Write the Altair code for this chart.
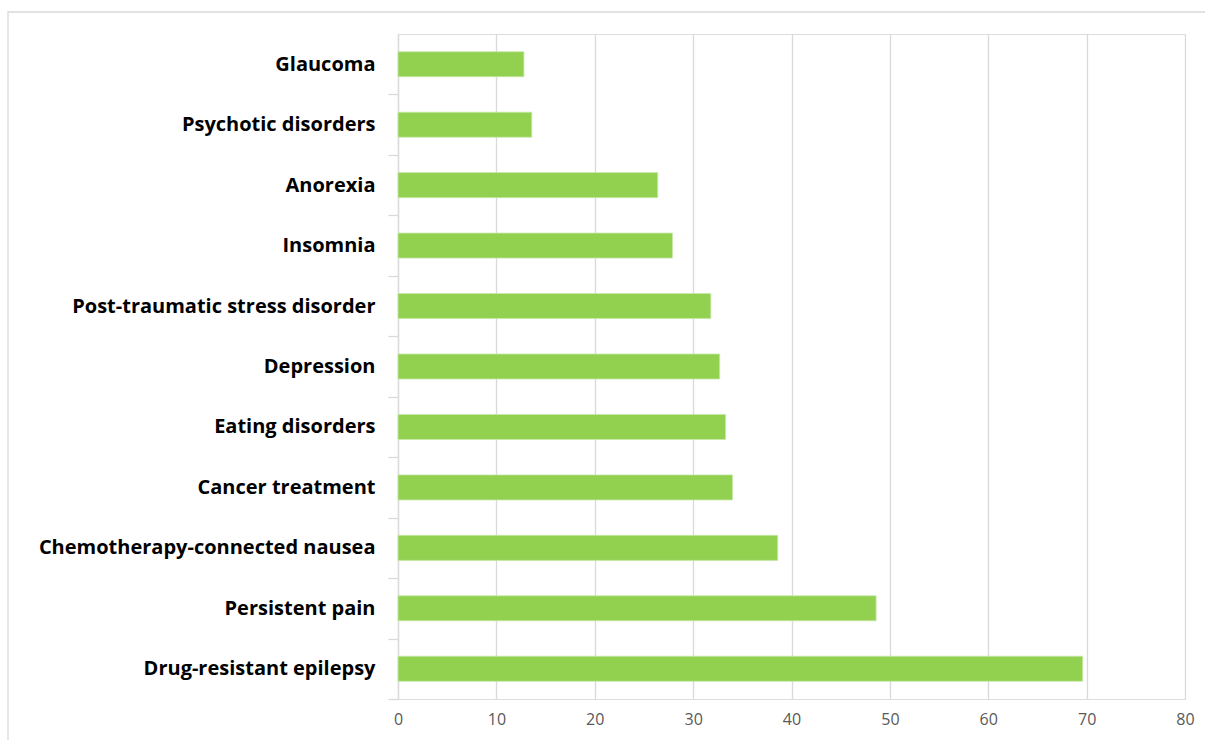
import altair as alt
import pandas as pd

# Conditions (top to bottom) and the share reported for each
conditions = [
    "Glaucoma",
    "Psychotic disorders",
    "Anorexia",
    "Insomnia ",
    "Post-traumatic stress disorder",
    "Depression",
    "Eating disorders",
    "Cancer treatment",
    "Chemotherapy-connected nausea ",
    "Persistent pain",
    "Drug-resistant epilepsy",
]
values = [12.8, 13.6, 26.4, 27.9, 31.8, 32.7, 33.3, 34.0, 38.6, 48.6, 69.6]
x_ticks = [0, 10, 20, 30, 40, 50, 60, 70, 80]

df = pd.DataFrame({"condition": conditions, "value": values})

GRID = "#D9D9D9"
BAR = "#92D050"
PAD_INNER = 0.586
STEP = 665 / len(conditions)

bars = alt.Chart(df).mark_bar(color=BAR, stroke="#C8E8A8", strokeWidth=0.8).encode(
    x=alt.X(
        "value:Q",
        scale=alt.Scale(domain=[0, 80], nice=False),
        axis=alt.Axis(
            values=x_ticks,
            title=None,
            domain=False,
            ticks=False,
            grid=True,
            gridColor=GRID,
            gridWidth=1.3,
            labelColor="#595959",
            labelFont="Open Sans",
            labelFontSize=16,
            labelPadding=12,
            labelFlush=False,
        ),
    ),
    y=alt.Y(
        "condition:N",
        sort=conditions,
        scale=alt.Scale(paddingInner=PAD_INNER, paddingOuter=PAD_INNER / 2),
        axis=alt.Axis(
            title=None,
            grid=False,
            domainColor=GRID,
            domainWidth=1.3,
            tickColor=GRID,
            tickWidth=1.3,
            tickSize=10,
            tickOffset=STEP / 2,
            labelOffset=-STEP / 2,
            labelColor="#000000",
            labelFont="Open Sans",
            labelFontWeight="bold",
            labelFontSize=20,
            labelPadding=13,
            labelLimit=400,
        ),
    ),
)

# Light frame around the whole chart
frame = alt.Chart(pd.DataFrame({"k": [0]})).mark_rect(
    fill=None, stroke=GRID, strokeWidth=1.3, clip=False
).encode(
    x=alt.value(-390), x2=alt.value(900), y=alt.value(-22), y2=alt.value(800)
)

chart = alt.layer(frame, bars).properties(
    width=787,
    height=665,
    autosize=alt.AutoSizeParams(type="none"),
    padding={"left": 398, "top": 34, "right": 20, "bottom": 41},
).configure_view(stroke=None).configure(background="white")

chart.save("out.html", embed_options={"renderer": "svg", "actions": False})
